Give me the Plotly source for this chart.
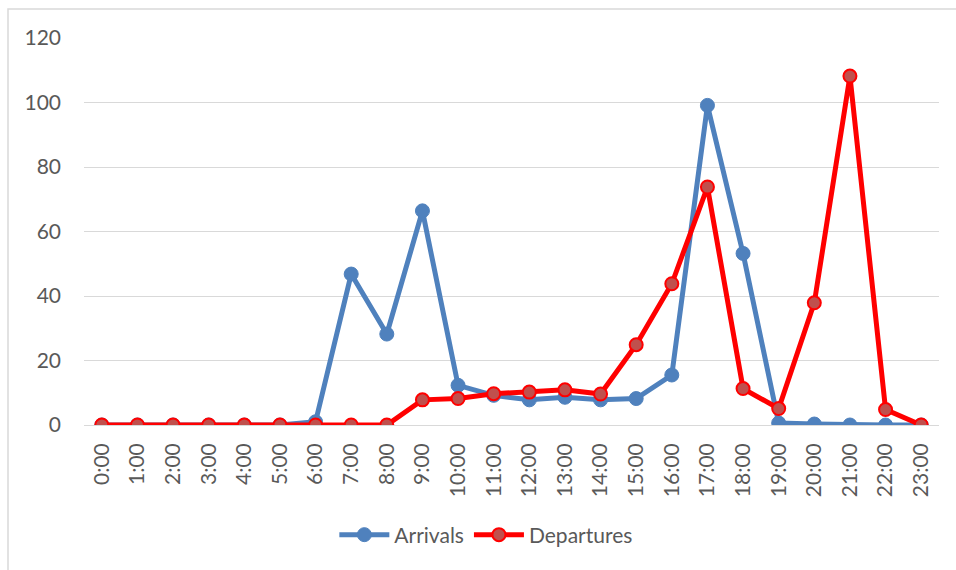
import plotly.graph_objects as go

hours = [f"{h}:00" for h in range(24)]
arrivals = [0, 0, 0, 0, 0, 0, 1.0, 46.8, 28.2, 66.4, 12.3, 9.2, 7.8, 8.6, 7.8, 8.2,
            15.5, 99.1, 53.2, 0.6, 0.3, 0, 0, 0]
departures = [0, 0, 0, 0, 0, 0, 0, 0, 0, 7.8, 8.2, 9.7, 10.2, 10.9, 9.6, 24.9,
              43.8, 73.8, 11.3, 5.1, 37.9, 108.2, 4.8, 0]

FONT = "Lato, 'Liberation Sans', sans-serif"
GRAY = "#595959"

fig = go.Figure()
fig.add_trace(go.Scatter(
    x=hours, y=arrivals, name="Arrivals", mode="lines+markers",
    line=dict(color="#4f81bd", width=5),
    marker=dict(symbol="circle", size=14, color="#4f81bd",
                line=dict(color="#4f81bd", width=1)),
))
fig.add_trace(go.Scatter(
    x=hours, y=departures, name="Departures", mode="lines+markers",
    line=dict(color="#ff0000", width=5),
    marker=dict(symbol="circle", size=13, color="#c0504d",
                line=dict(color="#ff0000", width=2)),
))

L, R, T, B = 84, 17, 38, 145
W, H = 956, 570
pw, ph = W - L - R, H - T - B

fig.update_layout(
    width=W, height=H,
    margin=dict(l=L, r=R, t=T, b=B, pad=0),
    paper_bgcolor="white", plot_bgcolor="white",
    font=dict(family=FONT, color=GRAY, size=21),
    showlegend=True,
    legend=dict(orientation="h", x=0.47, xanchor="center",
                y=(T + ph - 535) / ph, yanchor="middle",
                font=dict(size=21, color=GRAY), itemwidth=50,
                bgcolor="rgba(0,0,0,0)"),
    xaxis=dict(type="category", range=[-0.5, 23.5], tickangle=-90,
               showgrid=False, showline=False, zeroline=False, ticks="",
               tickfont=dict(size=21, color=GRAY), ticklabelstandoff=13),
    yaxis=dict(range=[0, 120], dtick=20, showgrid=True, gridcolor="#d9d9d9",
               gridwidth=1.3, zeroline=True, zerolinecolor="#d9d9d9",
               zerolinewidth=1.3, showline=False, ticks="",
               tickfont=dict(size=21, color=GRAY), ticklabelstandoff=22),
    shapes=[dict(type="rect", xref="paper", yref="paper",
                 x0=(8 - L) / pw, x1=(W + 10 - L) / pw,
                 y0=(T + ph - (H + 10)) / ph, y1=(T + ph - 9) / ph,
                 line=dict(color="#d9d9d9", width=1.5), layer="below")],
)

fig.write_html("out.html")
